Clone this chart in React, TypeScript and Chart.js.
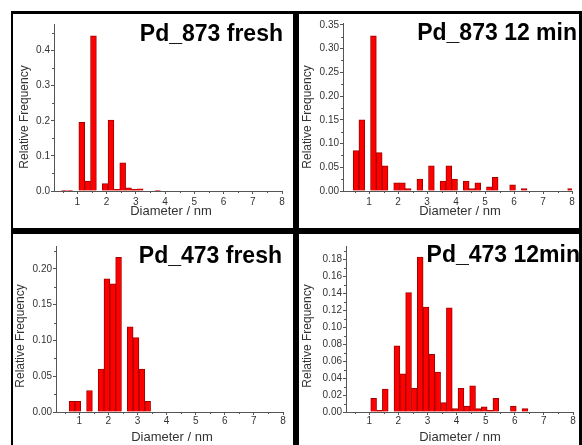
import React, { useEffect, useRef } from 'react';
import { Chart, registerables } from 'chart.js';

Chart.register(...registerables);

const FONT = '"Liberation Sans", Arial, Helvetica, sans-serif';
const AXIS = '#555555';
const TXT = '#333333';

const X_TICKS = [1, 2, 3, 4, 5, 6, 7, 8];
const X_LABEL = 'Diameter / nm';
const Y_LABEL = 'Relative Frequency';

// Pd_873 fresh
const FRESH873_DIAM = [0.55, 0.75, 1.15, 1.35, 1.55, 1.95, 2.15, 2.35, 2.55, 2.75, 2.95, 3.15, 3.75];
const FRESH873_FREQ = [0.002, 0.002, 0.196, 0.028, 0.442, 0.021, 0.202, 0.005, 0.08, 0.009, 0.005, 0.006, 0.002];
const FRESH873_YTICKS = [0, 0.1, 0.2, 0.3, 0.4];

// Pd_873 12 min
const MIN873_DIAM = [0.55, 0.75, 1.15, 1.35, 1.55, 1.95, 2.15, 2.35, 2.75, 3.15, 3.55, 3.75, 3.95, 4.35, 4.55, 4.75, 5.15, 5.35, 5.95, 6.35, 7.95];
const MIN873_FREQ = [0.085, 0.15, 0.327, 0.081, 0.053, 0.017, 0.017, 0.005, 0.025, 0.053, 0.021, 0.053, 0.025, 0.021, 0.005, 0.017, 0.009, 0.029, 0.013, 0.005, 0.005];
const MIN873_YTICKS = [0, 0.05, 0.1, 0.15, 0.2, 0.25, 0.3, 0.35];

// Pd_473 fresh
const FRESH473_DIAM = [0.75, 0.95, 1.35, 1.75, 1.95, 2.15, 2.35, 2.75, 2.95, 3.15, 3.35];
const FRESH473_FREQ = [0.015, 0.015, 0.03, 0.06, 0.186, 0.179, 0.216, 0.119, 0.104, 0.06, 0.015];
const FRESH473_YTICKS = [0, 0.05, 0.1, 0.15, 0.2];

// Pd_473 12min
const MIN473_DIAM = [1.15, 1.35, 1.55, 1.95, 2.15, 2.35, 2.55, 2.75, 2.95, 3.15, 3.35, 3.55, 3.75, 3.95, 4.15, 4.35, 4.55, 4.75, 4.95, 5.15, 5.35, 5.95, 6.35];
const MIN473_FREQ = [0.016, 0.002, 0.027, 0.078, 0.045, 0.141, 0.028, 0.183, 0.124, 0.068, 0.047, 0.011, 0.123, 0.004, 0.028, 0.007, 0.031, 0.004, 0.006, 0.002, 0.016, 0.007, 0.004];
const MIN473_YTICKS = [0, 0.02, 0.04, 0.06, 0.08, 0.1, 0.12, 0.14, 0.16, 0.18];

type PanelCfg = {
  title: string;
  diam: number[];
  freq: number[];
  yTicks: number[];
  yMax: number;
  xMin: number;
  dec: number;
  w: number;
  h: number;
  plot: { left: number; right: number; top: number; bottom: number };
  titleRight: number;
  titleBase: number;
  tickPad: number;
  xTitle: [number, number];
  yTitle: [number, number];
};

const PANELS: PanelCfg[] = [
  {
    title: 'Pd_873 fresh', diam: FRESH873_DIAM, freq: FRESH873_FREQ, yTicks: FRESH873_YTICKS,
    yMax: 0.476, xMin: 0.2, dec: 1, w: 280, h: 214,
    plot: { left: 41, right: 269, top: 10, bottom: 177 }, titleRight: 270, titleBase: 27,
    tickPad: 2, xTitle: [158, 197], yTitle: [12, 103],
  },
  {
    title: 'Pd_873 12 min', diam: MIN873_DIAM, freq: MIN873_FREQ, yTicks: MIN873_YTICKS,
    yMax: 0.354, xMin: 0.1, dec: 2, w: 280, h: 214,
    plot: { left: 44, right: 273, top: 9, bottom: 177 }, titleRight: 278, titleBase: 26,
    tickPad: 2, xTitle: [161, 197], yTitle: [9, 103],
  },
  {
    title: 'Pd_473 fresh', diam: FRESH473_DIAM, freq: FRESH473_FREQ, yTicks: FRESH473_YTICKS,
    yMax: 0.232, xMin: 0.2, dec: 2, w: 280, h: 211,
    plot: { left: 43, right: 270, top: 12, bottom: 178 }, titleRight: 269, titleBase: 29,
    tickPad: 0, xTitle: [159, 203], yTitle: [8, 102],
  },
  {
    title: 'Pd_473 12min', diam: MIN473_DIAM, freq: MIN473_FREQ, yTicks: MIN473_YTICKS,
    yMax: 0.196, xMin: 0.2, dec: 2, w: 280, h: 211,
    plot: { left: 47, right: 274, top: 12, bottom: 178 }, titleRight: 281, titleBase: 28,
    tickPad: 0, xTitle: [161, 203], yTitle: [9, 102],
  },
];

function Panel({ cfg }: { cfg: PanelCfg }) {
  const ref = useRef<HTMLCanvasElement>(null);
  useEffect(() => {
    const c = cfg;
    const decor = {
      id: 'decor',
      afterDraw(chart: any) {
        const ctx = chart.ctx as CanvasRenderingContext2D;
        const area = chart.chartArea;
        const xs = chart.scales.x;
        const ys = chart.scales.y;
        ctx.save();
        ctx.strokeStyle = AXIS;
        ctx.lineWidth = 1;
        ctx.beginPath();
        // minor y ticks
        const yt = c.yTicks;
        const step = yt[1] - yt[0];
        for (let i = 0; i < yt.length; i++) {
          const m = yt[i] + step / 2;
          if (m <= c.yMax) {
            const py = Math.round(ys.getPixelForValue(m)) + 0.5;
            ctx.moveTo(area.left - 2, py);
            ctx.lineTo(area.left, py);
          }
        }
        // minor x ticks
        for (let i = 0; i < X_TICKS.length; i++) {
          const m = X_TICKS[i] - 0.5;
          if (m >= c.xMin) {
            const px = Math.round(xs.getPixelForValue(m)) + 0.5;
            ctx.moveTo(px, area.bottom);
            ctx.lineTo(px, area.bottom + 2);
          }
        }
        ctx.stroke();
        // axis titles
        ctx.fillStyle = TXT;
        ctx.textAlign = 'center';
        ctx.textBaseline = 'middle';
        ctx.font = `13px ${FONT}`;
        ctx.fillText(X_LABEL, c.xTitle[0], c.xTitle[1]);
        ctx.save();
        ctx.translate(c.yTitle[0], c.yTitle[1]);
        ctx.rotate(-Math.PI / 2);
        ctx.font = `12px ${FONT}`;
        ctx.fillText(Y_LABEL, 0, 0);
        ctx.restore();
        // panel title
        ctx.fillStyle = '#000';
        ctx.font = `bold 23px ${FONT}`;
        ctx.textAlign = 'right';
        ctx.textBaseline = 'alphabetic';
        ctx.fillText(c.title, c.titleRight, c.titleBase);
        ctx.restore();
      },
    };

    const chart = new Chart(ref.current as HTMLCanvasElement, {
      type: 'bar',
      data: {
        datasets: [
          {
            data: c.diam.map((d, i) => ({ x: d, y: c.freq[i] })) as any,
            backgroundColor: '#ff0000',
            borderColor: '#a00000',
            borderWidth: 1,
            barPercentage: 1,
            categoryPercentage: 1,
          },
        ],
      },
      options: {
        responsive: false,
        animation: false,
        events: [],
        layout: { padding: { left: 0, top: c.plot.top, right: c.w - c.plot.right, bottom: 0 } },
        plugins: { legend: { display: false }, tooltip: { enabled: false }, title: { display: false } },
        scales: {
          x: {
            type: 'linear',
            min: c.xMin,
            max: 8,
            offset: false,
            afterBuildTicks: (s: any) => {
              s.ticks = X_TICKS.map((v) => ({ value: v }));
            },
            afterFit: (s: any) => {
              s.height = c.h - c.plot.bottom;
            },
            grid: { offset: false, drawOnChartArea: false, drawTicks: true, tickLength: 3, color: AXIS, tickColor: AXIS },
            border: { display: true, color: AXIS, width: 1 },
            ticks: {
              font: { family: FONT, size: 10 },
              color: TXT,
              padding: c.tickPad,
              maxRotation: 0,
              autoSkip: false,
              callback: (v: any) => String(v),
            },
            title: { display: false },
          },
          y: {
            type: 'linear',
            min: 0,
            max: c.yMax,
            afterBuildTicks: (s: any) => {
              s.ticks = c.yTicks.map((v) => ({ value: v }));
            },
            afterFit: (s: any) => {
              s.width = c.plot.left;
            },
            grid: { drawOnChartArea: false, drawTicks: true, tickLength: 3, color: AXIS, tickColor: AXIS },
            border: { display: true, color: AXIS, width: 1 },
            ticks: {
              font: { family: FONT, size: 10 },
              color: TXT,
              padding: 1,
              autoSkip: false,
              callback: (v: any) => Number(v).toFixed(c.dec),
            },
            title: { display: false },
          },
        },
      } as any,
      plugins: [decor as any],
    });
    return () => chart.destroy();
  }, [cfg]);
  return (
    <div style={{ background: '#fff', width: cfg.w, height: cfg.h, overflow: 'hidden' }}>
      <canvas ref={ref} width={cfg.w} height={cfg.h} style={{ display: 'block', width: cfg.w, height: cfg.h }} />
    </div>
  );
}

export default function App() {
  return (
    <div
      style={{
        position: 'absolute',
        left: 11,
        top: 11,
        width: 571,
        height: 434,
        boxSizing: 'border-box',
        background: '#000',
        padding: '3px 3px 0 2px',
        display: 'grid',
        gridTemplateColumns: '280px 280px',
        gridTemplateRows: '214px 211px',
        columnGap: 6,
        rowGap: 6,
        overflow: 'hidden',
      }}
    >
      {PANELS.map((p) => (
        <Panel key={p.title} cfg={p} />
      ))}
    </div>
  );
}
